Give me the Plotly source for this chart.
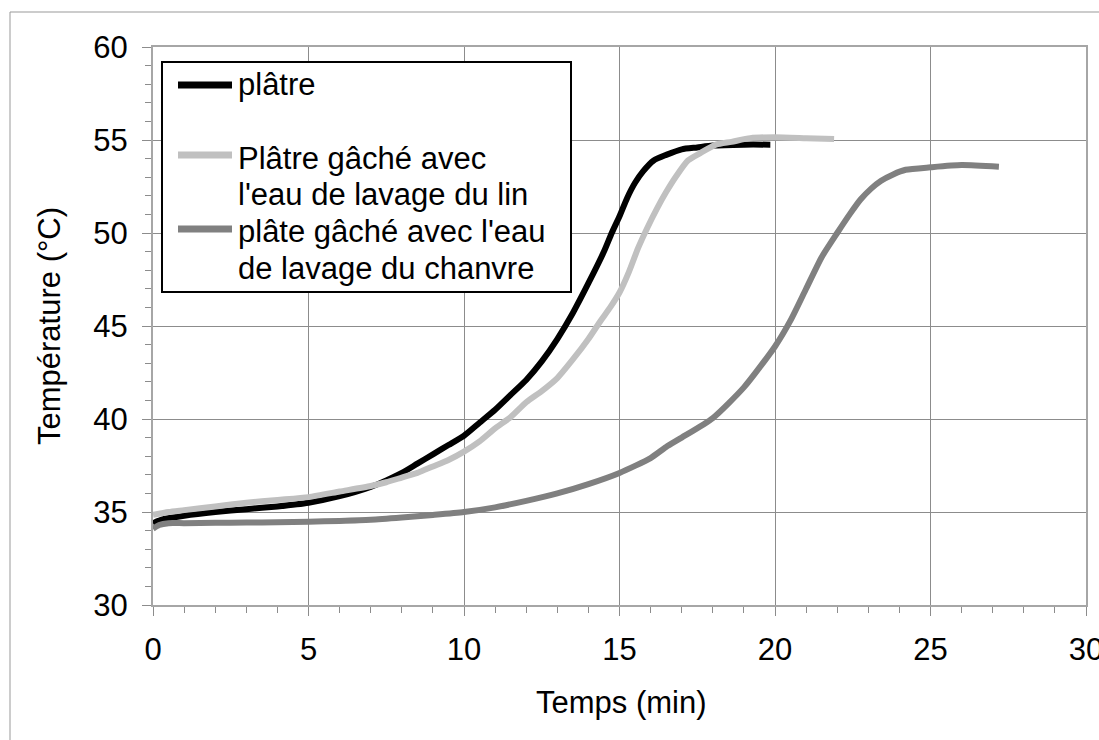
import plotly.graph_objects as go

# ---- data ----
series_names = ["plâtre",
                "Plâtre gâché avec l'eau de lavage du lin",
                "plâte gâché avec l'eau de lavage du chanvre"]
legend_lines = [["plâtre"],
                ["Plâtre gâché avec", "l'eau de lavage du lin"],
                ["plâte gâché avec l'eau", "de lavage du chanvre"]]
series_colors = ["#000000", "#c0c0c0", "#808080"]

t_platre = [0, 0.3, 1, 2, 3, 4, 5, 6, 7, 7.5, 8, 8.5, 9, 9.5, 10, 10.5, 11, 11.5, 12, 12.5,
            13, 13.5, 14, 14.5, 14.75, 15, 15.25, 15.5, 15.75, 16.1, 16.5, 17, 17.5, 18, 19, 19.85]
T_platre = [34.4, 34.6, 34.8, 35.0, 35.15, 35.3, 35.5, 35.85, 36.35, 36.7, 37.1, 37.6, 38.1, 38.6,
            39.1, 39.8, 40.5, 41.3, 42.1, 43.1, 44.3, 45.7, 47.3, 49.0, 50.0, 50.9, 51.9, 52.7,
            53.3, 53.9, 54.2, 54.5, 54.6, 54.7, 54.75, 54.75]

t_lin = [0, 0.5, 1, 2, 3, 4, 5, 6, 7, 7.5, 8, 8.5, 9, 9.5, 10, 10.5, 11, 11.5, 12, 12.5, 13,
         13.5, 14, 14.4, 14.7, 15, 15.3, 15.6, 15.9, 16.2, 16.5, 16.8, 17.2, 17.6, 18.1, 18.6,
         19.2, 20, 21, 21.9]
T_lin = [34.85, 35.0, 35.1, 35.3, 35.5, 35.65, 35.8, 36.1, 36.4, 36.6, 36.85, 37.1, 37.45, 37.8,
         38.25, 38.8, 39.5, 40.1, 40.9, 41.5, 42.2, 43.2, 44.3, 45.3, 46.0, 46.8, 47.9, 49.2,
         50.3, 51.3, 52.2, 53.0, 53.9, 54.3, 54.75, 54.9, 55.1, 55.15, 55.1, 55.05]

t_chanvre = [0, 0.2, 0.5, 1, 2, 3, 4, 5, 6, 7, 8, 9, 10, 11, 12, 13, 14, 15, 16, 16.5, 17, 18,
             19, 20, 20.5, 21, 21.5, 22, 22.4, 22.75, 23.1, 23.4, 23.8, 24.2, 25, 26, 27.2]
T_chanvre = [34.1, 34.3, 34.4, 34.4, 34.42, 34.43, 34.45, 34.48, 34.52, 34.58, 34.7, 34.84, 35.0,
             35.25, 35.6, 36.0, 36.5, 37.1, 37.9, 38.5, 39.0, 40.05, 41.7, 43.9, 45.3, 47.0, 48.7,
             50.0, 51.0, 51.8, 52.4, 52.8, 53.15, 53.4, 53.53, 53.65, 53.56]

x_ticks = [0, 5, 10, 15, 20, 25, 30]
y_ticks = [30, 35, 40, 45, 50, 55, 60]
x_title = "Temps (min)"
y_title = "Température (°C)"

xs = [t_platre, t_lin, t_chanvre]
ys = [T_platre, T_lin, T_chanvre]

# ---- figure geometry (pixels) ----
W, H = 1099, 740
L, R, T, B = 153, 13, 47, 135
PW, PH = W - L - R, H - T - B


def px(x):
    return (x - L) / PW


def py(y):
    return (H - B - y) / PH


FONT = "Liberation Sans, Arial, sans-serif"
FS = 31

fig = go.Figure()
for x, y, n, c in zip(xs, ys, series_names, series_colors):
    fig.add_trace(go.Scatter(x=x, y=y, name=n, mode="lines",
                             line=dict(color=c, width=6, shape="spline", smoothing=0.6),
                             showlegend=False))

axis_common = dict(
    showline=True, mirror=True, linecolor="#a6a6a6", linewidth=2,
    showgrid=True, gridcolor="#8c8c8c", gridwidth=1,
    ticks="outside", ticklen=9, tickcolor="#8c8c8c", tickwidth=1,
    tickfont=dict(family=FONT, size=FS, color="#000"),
    minor=dict(dtick=1, ticks="outside", ticklen=6, tickcolor="#8c8c8c", showgrid=False),
    zeroline=False, automargin=False,
)

fig.update_xaxes(range=[0, 30], tickvals=x_ticks, ticklabelstandoff=7,
                 ticklabeloverflow="allow", **axis_common)
fig.update_yaxes(range=[30, 60], tickvals=y_ticks, ticklabelstandoff=8, **axis_common)

shapes = []
annotations = []
# outer chart border (top and left edges visible in the reference)
shapes.append(dict(type="line", xref="paper", yref="paper",
                   x0=px(10), x1=px(1099), y0=py(12), y1=py(12),
                   line=dict(color="#999999", width=1), layer="below"))
shapes.append(dict(type="line", xref="paper", yref="paper",
                   x0=px(10), x1=px(10), y0=py(12), y1=py(740),
                   line=dict(color="#999999", width=1), layer="below"))
# axis titles
annotations.append(dict(xref="paper", yref="paper", x=px(621), y=py(702),
                        xanchor="center", yanchor="middle", showarrow=False, text=x_title,
                        font=dict(family=FONT, size=FS, color="#000")))
annotations.append(dict(xref="paper", yref="paper", x=px(49), y=py(326),
                        xanchor="center", yanchor="middle", showarrow=False, text=y_title,
                        textangle=-90, font=dict(family=FONT, size=FS, color="#000")))
# legend box
shapes.append(dict(type="rect", xref="paper", yref="paper",
                   x0=px(162), x1=px(571), y0=py(62), y1=py(292),
                   line=dict(color="#000000", width=2), fillcolor="white"))
leg_line_y = [85, 155, 229]
leg_text_y = [[85], [158, 195], [232, 268]]
for i in range(3):
    shapes.append(dict(type="line", xref="paper", yref="paper",
                       x0=px(178), x1=px(232), y0=py(leg_line_y[i]), y1=py(leg_line_y[i]),
                       line=dict(color=series_colors[i], width=7)))
    for txt, yy in zip(legend_lines[i], leg_text_y[i]):
        annotations.append(dict(xref="paper", yref="paper", x=px(236), y=py(yy),
                                xanchor="left", yanchor="middle", align="left", showarrow=False,
                                text=txt, font=dict(family=FONT, size=FS, color="#000")))

fig.update_layout(
    width=W, height=H,
    margin=dict(l=L, r=R, t=T, b=B, autoexpand=False),
    paper_bgcolor="white", plot_bgcolor="white",
    shapes=shapes, annotations=annotations,
    showlegend=False,
)

fig.write_html("out.html")
